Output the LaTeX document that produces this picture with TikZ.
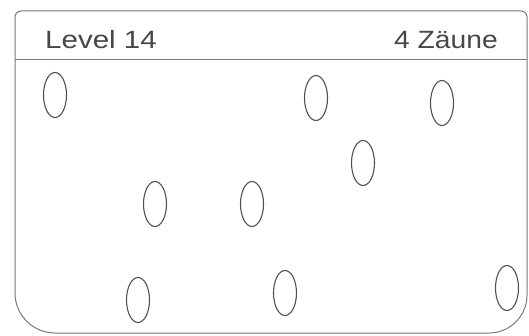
\documentclass[tikz,border=0pt]{standalone}
\usepackage{fontspec}
\setmainfont{Liberation Sans}
\usetikzlibrary{shapes.geometric}
\definecolor{framegray}{HTML}{7A7A7A}
\definecolor{inkgray}{HTML}{505050}
\definecolor{textgray}{HTML}{474747}
\tikzset{
  fence/.style={ellipse, draw=inkgray, line width=1.1pt, minimum width=23pt, minimum height=45pt, inner sep=0pt},
  frameline/.style={draw=framegray, line width=1pt},
  headtext/.style={text=textgray, inner sep=0pt, font=\fontsize{25}{25}\selectfont}
}
\begin{document}
\begin{tikzpicture}[x=1pt,y=1pt]
\useasboundingbox (0,0) rectangle (529,335);
% frame
\draw[frameline] (15,150) -- (15,318) arc[start angle=180,end angle=90,radius=6pt]
  -- (521,324) arc[start angle=90,end angle=0,radius=6pt]
  -- (527,40) arc[start angle=0,end angle=-90,radius=38pt]
  -- (55,2) arc[start angle=270,end angle=180,radius=40pt] -- cycle;
\coordinate (hl) at (15,275);
\coordinate (hr) at (527,275);
\draw[frameline] (hl) -- (hr);
% header texts
\node[headtext, anchor=base west] (level) at (45,286) {\scalebox{1.18}[1]{Level 14}};
\node[headtext, anchor=base east] (zaeune) at (498,286) {\scalebox{1.13}[1]{4 Zäune}};
% fences
\node[fence] (e1) at (55,240) {};
\node[fence] (e2) at (316,237) {};
\node[fence] (e3) at (442,232) {};
\node[fence] (e4) at (363,172) {};
\node[fence] (e5) at (155,131) {};
\node[fence] (e6) at (252,131) {};
\node[fence] (e7) at (138,35) {};
\node[fence] (e8) at (285,42) {};
\node[fence] (e9) at (507,47) {};
\end{tikzpicture}
\end{document}
